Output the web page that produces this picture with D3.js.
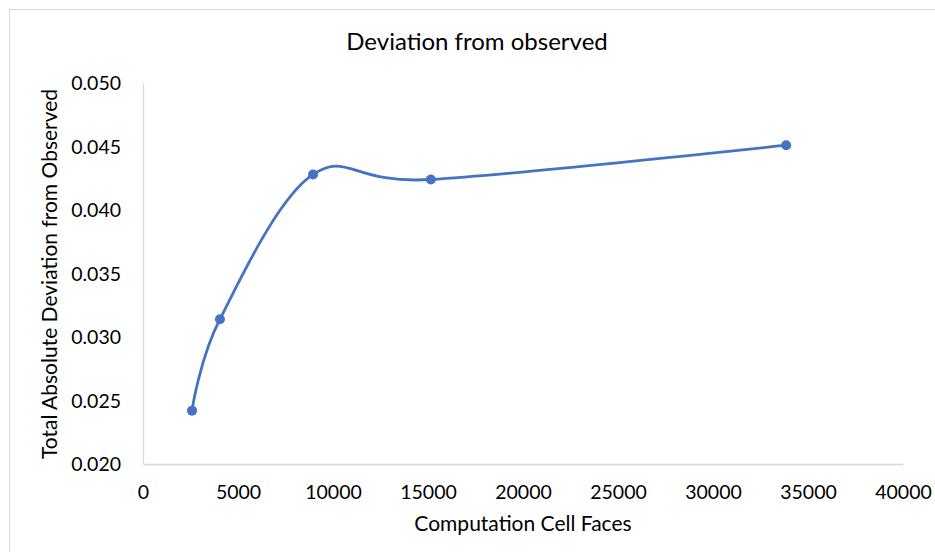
<!DOCTYPE html>
<html>
<head>
<meta charset="utf-8">
<script src="https://cdn.jsdelivr.net/npm/d3@7"></script>
<style>
  body { margin: 0; background: #fff; }
  text { font-family: Lato, "Open Sans", sans-serif; fill: #000; }
</style>
</head>
<body>
<script>
var w = 935;
var h = 552;

// data
var cellFaces = [2580, 4050, 8950, 15150, 33850];
var deviation = [0.0242, 0.0314, 0.0428, 0.0424, 0.0451];
var xTicks = [0, 5000, 10000, 15000, 20000, 25000, 30000, 35000, 40000];
var yTicks = [0.020, 0.025, 0.030, 0.035, 0.040, 0.045, 0.050];

var margin = {left: 143, right: 32, top: 83, bottom: 88};

var svg = d3.select("body")
        .append("svg")
        .attr("width", w)
        .attr("height", h);

// chart border
svg.append("rect")
    .attr("x", 9.5)
    .attr("y", 9.5)
    .attr("width", w + 20)
    .attr("height", h + 20)
    .attr("fill", "none")
    .attr("stroke", "#d9d9d9");

var x = d3.scaleLinear()
        .domain([0, 40000])
        .range([margin.left, w - margin.right]);

var y = d3.scaleLinear()
        .domain([0.020, 0.050])
        .range([h - margin.bottom, margin.top]);

var xAxis = svg.append("g")
        .attr("transform", "translate(0," + y(0.020) + ")")
        .call(d3.axisBottom(x).tickValues(xTicks).tickSize(0).tickPadding(21).tickFormat(d3.format("d")));

var yAxis = svg.append("g")
        .attr("transform", "translate(" + x(0) + ",0)")
        .call(d3.axisLeft(y).tickValues(yTicks).tickSize(0).tickPadding(22).tickFormat(d3.format(".3f")));

[xAxis, yAxis].forEach(function(g) {
    g.select(".domain").attr("stroke", "#d9d9d9").attr("stroke-width", 1.3);
    g.selectAll("text").style("font-size", "19.5px").style("font-family", "Lato, 'Open Sans', sans-serif");
});
yAxis.selectAll("text").attr("dy", "0.35em");

var pts = cellFaces.map(function(d, i) { return [d, deviation[i]]; });

var line = d3.line()
        .x(function(d) { return x(d[0]); })
        .y(function(d) { return y(d[1]); })
        .curve(d3.curveCardinal.tension(0));

svg.append("path")
    .datum(pts)
    .attr("d", line)
    .attr("fill", "none")
    .attr("stroke", "#4472C4")
    .attr("stroke-width", 2.8);

svg.selectAll("circle.pt")
    .data(pts)
    .enter()
    .append("circle")
    .attr("class", "pt")
    .attr("cx", function(d) { return x(d[0]); })
    .attr("cy", function(d) { return y(d[1]); })
    .attr("r", 5)
    .attr("fill", "#4472C4");

svg.append("text")
    .attr("x", 477)
    .attr("y", 50)
    .attr("text-anchor", "middle")
    .style("font-size", "24px")
    .text("Deviation from observed");

svg.append("text")
    .attr("x", 523)
    .attr("y", 531)
    .attr("text-anchor", "middle")
    .style("font-size", "21px")
    .text("Computation Cell Faces");

svg.append("text")
    .attr("transform", "translate(57,274) rotate(-90)")
    .attr("text-anchor", "middle")
    .style("font-size", "21px")
    .text("Total Absolute Deviation from Observed");
</script>
</body>
</html>
